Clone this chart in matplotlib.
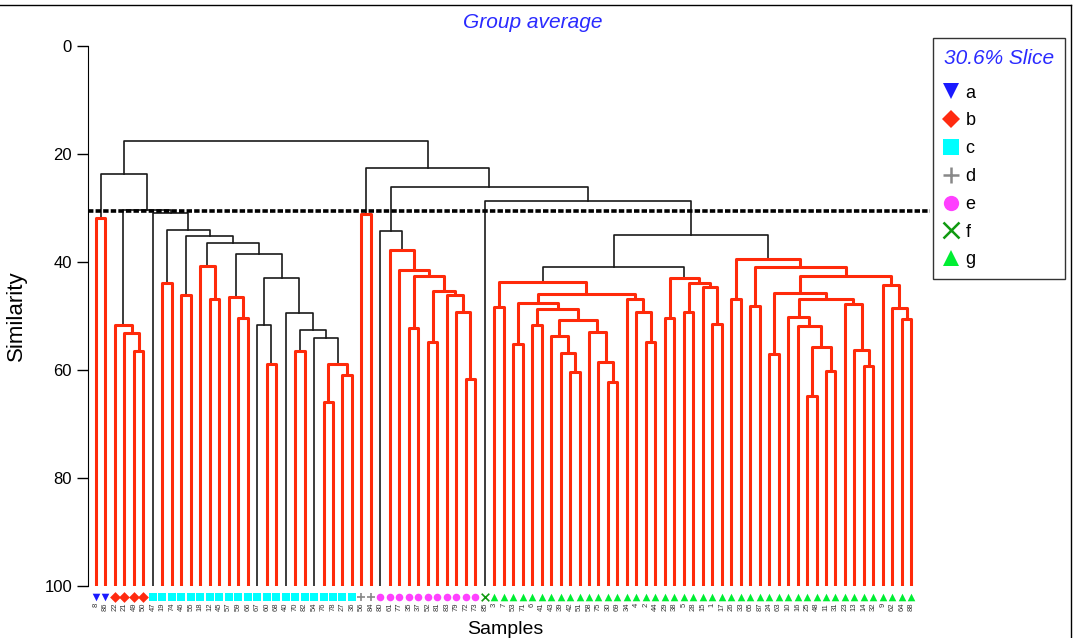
import matplotlib
matplotlib.use("Agg")
import matplotlib.pyplot as plt
from matplotlib.lines import Line2D

plt.rcParams['font.family'] = ['Liberation Sans', 'DejaVu Sans']

# sample labels in dendrogram order, and their slice group
samples = ["8", "86", "22", "21", "49", "50", "47", "19", "74", "46", "55", "18", "12", "45",
           "57", "59", "66", "67", "60", "68", "40", "70", "82", "54", "76", "78", "27", "36",
           "56", "84", "80", "61", "77", "35", "37", "52", "81", "83", "79", "72", "73", "85",
           "3", "7", "53", "71", "6", "41", "43", "39", "42", "51", "58", "75", "30", "69",
           "34", "4", "2", "44", "29", "38", "5", "28", "15", "1", "17", "26", "33", "65",
           "87", "24", "63", "10", "16", "25", "48", "11", "31", "23", "13", "14", "32", "9",
           "62", "64", "88"]
groups = (["a"] * 2 + ["b"] * 4 + ["c"] * 22 + ["d"] * 2 + ["e"] * 11 + ["f"] * 1 + ["g"] * 45)

group_names = ["a", "b", "c", "d", "e", "f", "g"]
group_markers = ["v", "D", "s", "+", "o", "x", "^"]
group_colors = ["#1a1aff", "#ff2a10", "#00ffff", "#888888", "#ff40ff", "#109a10", "#00ee33"]

slice_level = 30.6

# merge tree: (similarity, colour flag, left, right); ints are positions in samples
# 'k' = significant (black), 'r' = not significant (red dotted)
grp_a = (31.9, 'r', 0, 1)
grp_b = (51.6, 'r', 2, (53.1, 'r', 3, (56.4, 'r', 4, 5)))
grp_c_rest = (34.1, 'k',
              (43.8, 'r', 7, 8),
              (35.1, 'k',
               (46.2, 'r', 9, 10),
               (36.4, 'k',
                (40.8, 'r', 11, (46.9, 'r', 12, 13)),
                (38.6, 'k',
                 (46.4, 'r', 14, (50.4, 'r', 15, 16)),
                 (43.0, 'k',
                  (51.6, 'k', 17, (58.9, 'r', 18, 19)),
                  (49.5, 'k', 20,
                   (52.6, 'k', (56.4, 'r', 21, 22),
                    (54.0, 'k', 23,
                     (58.8, 'r', (66.0, 'r', 24, 25), (61.0, 'r', 26, 27))))))))))
grp_c = (31.0, 'k', 6, grp_c_rest)
grp_d = (31.1, 'r', 28, 29)
grp_e = (34.2, 'k', 30,
         (37.8, 'r', 31,
          (41.4, 'r', 32,
           (42.6, 'r', (52.3, 'r', 33, 34),
            (45.3, 'r', (54.9, 'r', 35, 36),
             (46.2, 'r', 37, (49.3, 'r', 38, (61.7, 'r', 39, 40))))))))
g_left = (43.7, 'r', (48.4, 'r', 42, 43),
          (45.9, 'r',
           (47.5, 'r', (55.2, 'r', 44, 45),
            (48.7, 'r', (51.7, 'r', 46, 47),
             (50.7, 'r',
              (53.7, 'r', 48, (56.8, 'r', 49, (60.3, 'r', 50, 51))),
              (53.0, 'r', 52, (58.5, 'r', 53, (62.3, 'r', 54, 55)))))),
           (46.9, 'r', 56, (49.3, 'r', 57, (54.8, 'r', 58, 59)))))
g_mid = (42.9, 'r', (50.3, 'r', 60, 61),
         (43.9, 'r', (49.2, 'r', 62, 63), (44.6, 'r', 64, (51.5, 'r', 65, 66))))
g_right = (39.4, 'r', (46.9, 'r', 67, 68),
           (40.9, 'r', (48.1, 'r', 69, 70),
            (42.5, 'r',
             (45.8, 'r', (57.1, 'r', 71, 72),
              (46.9, 'r',
               (50.1, 'r', 73, (51.8, 'r', 74, (55.8, 'r', (64.8, 'r', 75, 76), (60.1, 'r', 77, 78)))),
               (47.8, 'r', 79, (56.3, 'r', 80, (59.3, 'r', 81, 82))))),
             (44.3, 'r', 83, (48.5, 'r', 84, (50.6, 'r', 85, 86))))))
grp_g = (35.0, 'k', (41.0, 'k', g_left, g_mid), g_right)

tree = (17.5, 'k',
        (23.7, 'k', grp_a, (30.3, 'k', grp_b, grp_c)),
        (22.5, 'k', grp_d, (26.2, 'k', grp_e, (28.7, 'k', 41, grp_g))))

RED = "#ff2a0a"


def draw(ax, node):
    # returns (x, height) of node; leaves sit at similarity 100
    if isinstance(node, int):
        return node, 100.0
    h, flag, left, right = node
    xl, hl = draw(ax, left)
    xr, hr = draw(ax, right)
    if flag == 'r':
        kw = dict(color=RED, lw=2.2, solid_capstyle='butt', zorder=3)
    else:
        kw = dict(color="#1a1a1a", lw=1.2, zorder=2)
    ax.plot([xl, xl, xr, xr], [hl, h, h, hr], **kw)
    return (xl + xr) / 2, h


W, H = 1075, 638
fig = plt.figure(figsize=(W / 100, H / 100), dpi=100)
ax = fig.add_axes([88 / W, 1 - 586 / H, (930 - 88) / W, 540 / H])

draw(ax, tree)

ax.axhline(slice_level, color="black", lw=2.6, ls=(0, (1.5, 0.6)), zorder=4)

# leaf markers under the axis
for gname, mk, col in zip(group_names, group_markers, group_colors):
    idx = [i for i, g in enumerate(groups) if g == gname]
    ax.scatter(idx, [102.0] * len(idx), marker=mk, color=col, s=30,
               linewidths=1.2 if mk in "+x" else 0, clip_on=False, zorder=5)

ax.set_xlim(-0.844, 87.97)
ax.set_ylim(100, 0)
ax.set_yticks([0, 20, 40, 60, 80, 100])
ax.tick_params(axis='y', length=8, width=1, labelsize=12, direction='out')
ax.set_xticks(range(len(samples)))
ax.set_xticklabels(samples, rotation=90, fontsize=5.5, color="#333333")
ax.tick_params(axis='x', length=0, pad=12)

for s in ['top', 'right', 'bottom']:
    ax.spines[s].set_visible(False)

ax.set_ylabel("Similarity", fontsize=16)
ax.yaxis.set_label_coords(-0.072, 0.5)
ax.set_xlabel("Samples", fontsize=14)
ax.xaxis.set_label_coords(0.495, -0.064)

fig.text(533 / W, 1 - 23 / H, "Group average", color="#2a2aff", style='italic',
         fontsize=15, ha='center', va='center')

handles = [Line2D([], [], marker=mk, color=col, ls='none', markersize=11 if mk != "D" else 9,
                  markeredgewidth=1.8 if mk in "+x" else 0)
           for mk, col in zip(group_markers, group_colors)]
leg = fig.legend(handles, group_names, loc='upper left',
                 bbox_to_anchor=(933 / W, 1 - 38 / H), fontsize=13,
                 title="30.6% Slice", frameon=True, fancybox=False, edgecolor="black",
                 handlelength=0.8, handletextpad=0.4, labelspacing=0.6,
                 borderpad=0.6, borderaxespad=0)
leg.get_frame().set_linewidth(1.0)
leg.get_title().set_color("#2a2aff")
leg.get_title().set_fontstyle('italic')
leg.get_title().set_fontsize(15)
leg._legend_box.align = "left"
leg._legend_box.sep = 12

# outer frame lines
fig.add_artist(Line2D([0, 1071 / W], [1 - 5 / H, 1 - 5 / H], color="black", lw=1))
fig.add_artist(Line2D([1071 / W, 1071 / W], [0, 1 - 5 / H], color="black", lw=1))

fig.savefig("out.png", dpi=100)
